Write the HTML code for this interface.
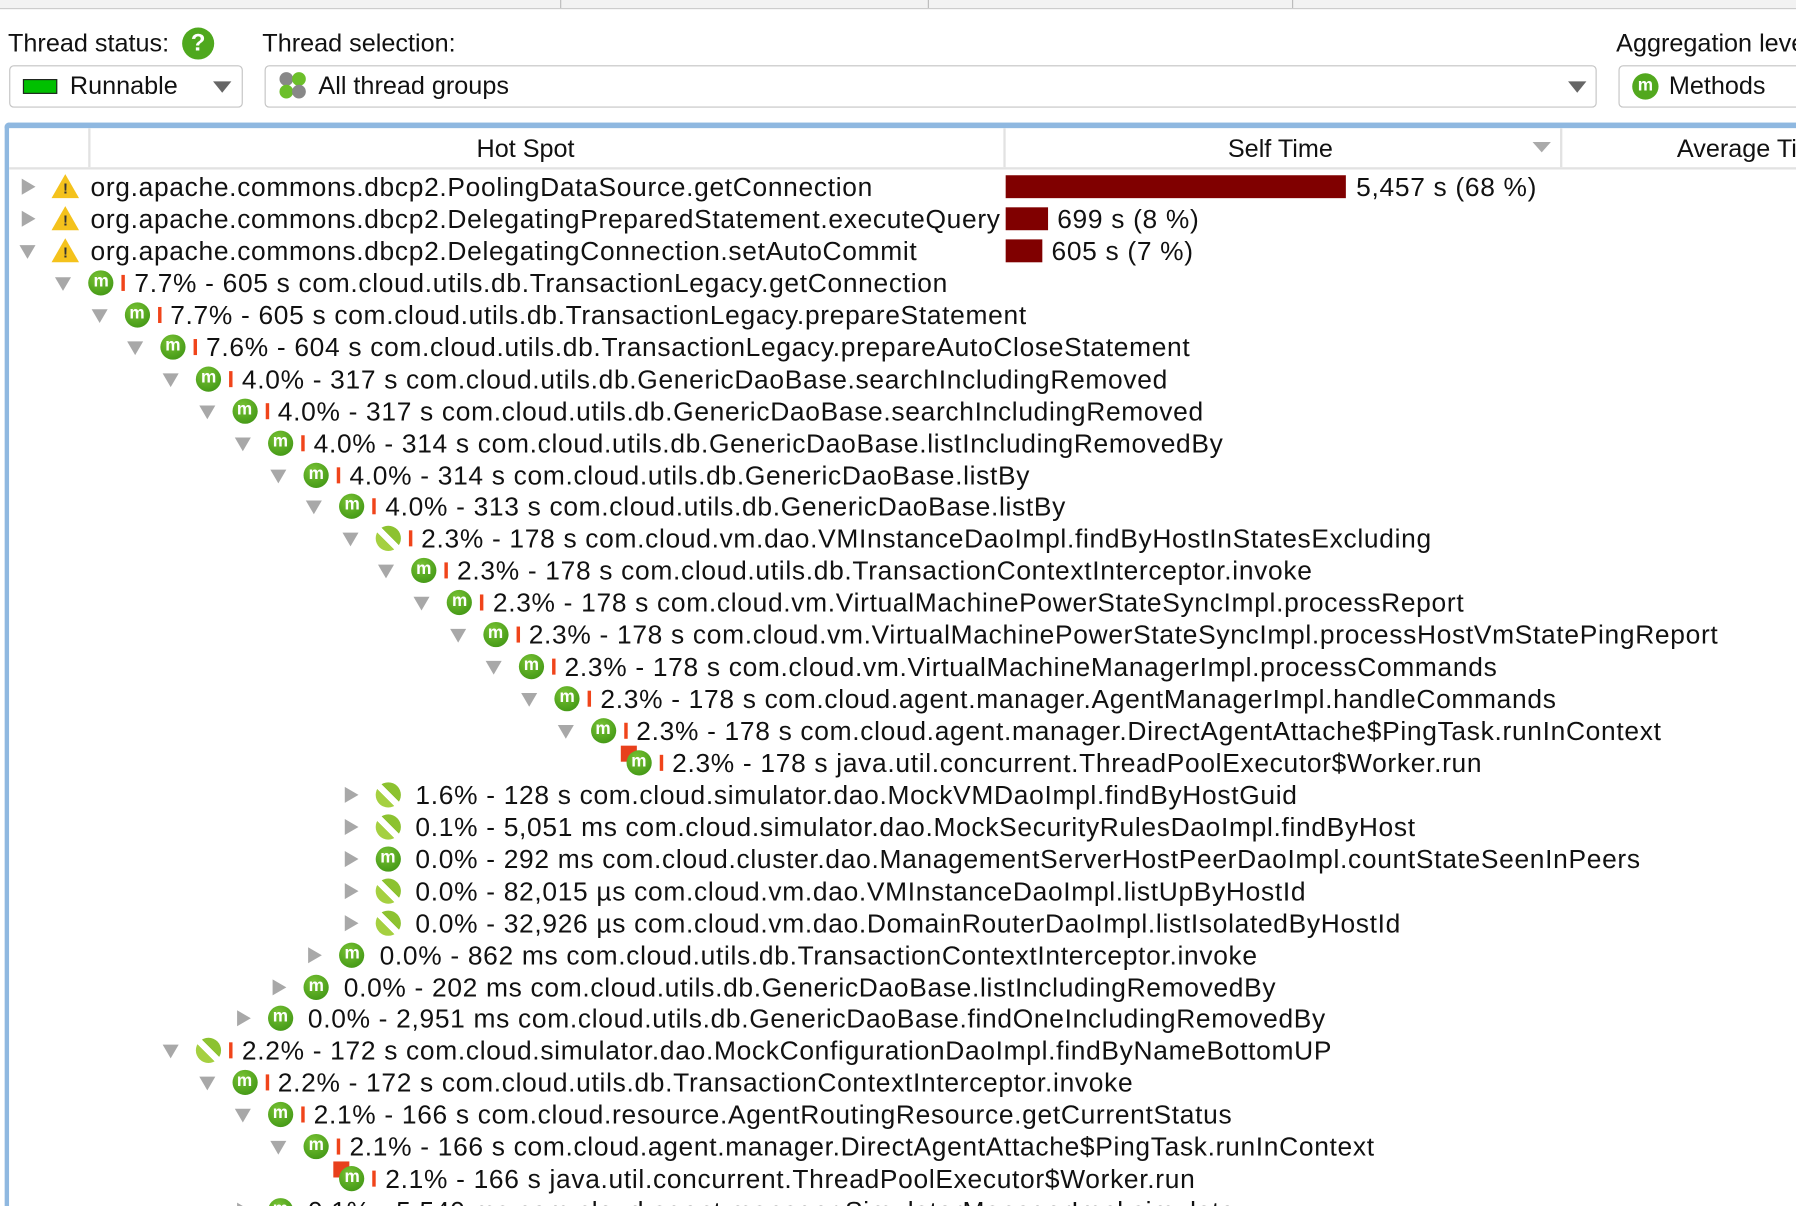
<!DOCTYPE html>
<html><head><meta charset="utf-8"><style>
html,body{margin:0;padding:0;background:#fff;overflow:hidden}
#w{position:absolute;left:0;top:0;width:1568px;height:1053px;transform:scale(1.14541);transform-origin:0 0;font-family:"Liberation Sans",sans-serif;color:#111;overflow:hidden}
.a{position:absolute}
.lbl{position:absolute;font-size:22px;top:25px;white-space:nowrap}
.box{position:absolute;top:57px;height:35px;border:1.5px solid #c4c4c4;border-radius:4px;background:#fff}
.dd{position:absolute;width:0;height:0;border-left:8px solid transparent;border-right:8px solid transparent;border-top:10px solid #666;top:13px}
.r{position:absolute;height:28px;width:1600px;font-size:23px;letter-spacing:0.6px;white-space:nowrap}
.t{position:absolute;left:80px;top:0;line-height:28px}
.td{position:absolute;left:17px;top:9px;width:0;height:0;border-left:7px solid transparent;border-right:7px solid transparent;border-top:12px solid #a8a8a8}
.tr{position:absolute;left:19px;top:7px;width:0;height:0;border-top:7px solid transparent;border-bottom:7px solid transparent;border-left:12px solid #a8a8a8}
.m{position:absolute;left:46px;top:3px;width:22px;height:22px;border-radius:50%;background:radial-gradient(circle at 40% 30%,#78c234,#4a9e1a 70%,#3d8a14);color:#fff;font:bold 15px/20px "Liberation Sans",sans-serif;text-align:center;letter-spacing:0}
.s{position:absolute;left:46px;top:3px;width:22px;height:22px;border-radius:50%;background:linear-gradient(45deg,#a5d040 0,#a5d040 40%,#fff 40%,#fff 58%,#8cc230 58%)}
.b{position:absolute;left:75px;top:7px;width:3px;height:14px;background:#f0441a}
.c{position:absolute;left:41px;top:-1px;width:14px;height:14px;background:#e8401c}
.wn{position:absolute;left:45px;top:3px;width:0;height:0;border-left:12px solid transparent;border-right:12px solid transparent;border-bottom:21px solid #f4c21c}
.wx{position:absolute;left:55px;top:9px;font:bold 13px/14px "Liberation Sans",sans-serif;color:#333;letter-spacing:0}
.bar{position:absolute;height:20px;background:#800000}
.st{position:absolute;font-size:23px;letter-spacing:0.6px;line-height:28px;white-space:nowrap}
</style></head><body><div id="w">
<div class="a" style="left:0;top:0;width:1568px;height:7px;background:#f2f2f2;border-bottom:1px solid #ccc"></div>
<div class="a" style="left:489px;top:0;width:1px;height:7px;background:#bbb"></div>
<div class="a" style="left:810px;top:0;width:1px;height:7px;background:#bbb"></div>
<div class="a" style="left:1128px;top:0;width:1px;height:7px;background:#bbb"></div>

<div class="lbl" style="left:7px">Thread status:</div>
<div class="a" style="left:159px;top:24px;width:28px;height:28px;border-radius:50%;background:#4fa81e;color:#fff;font:bold 21px/28px 'Liberation Sans',sans-serif;text-align:center">?</div>
<div class="lbl" style="left:229px">Thread selection:</div>
<div class="lbl" style="left:1411px">Aggregation level:</div>

<div class="box" style="left:8px;width:202px">
<div class="a" style="left:11px;top:11px;width:28px;height:11px;background:#00c000;border:1.5px solid #222"></div>
<div class="a" style="left:52px;top:4px;font-size:22px">Runnable</div>
<div class="dd" style="left:177px"></div></div>
<div class="box" style="left:231px;width:1161px">
<div class="a" style="left:12px;top:5px;width:12px;height:12px;border-radius:50%;background:#888"></div>
<div class="a" style="left:23px;top:5px;width:12px;height:12px;border-radius:50%;background:#6cbf2a"></div>
<div class="a" style="left:12px;top:16px;width:12px;height:12px;border-radius:50%;background:#6cbf2a"></div>
<div class="a" style="left:23px;top:16px;width:12px;height:12px;border-radius:50%;background:#888"></div>
<div class="a" style="left:46px;top:4px;font-size:22px">All thread groups</div>
<div class="dd" style="left:1137px"></div></div>
<div class="box" style="left:1413px;width:170px">
<div class="a" style="left:11px;top:6px;width:23px;height:23px;border-radius:50%;background:#52a81e;color:#fff;font:bold 15px/22px 'Liberation Sans',sans-serif;text-align:center">m</div>
<div class="a" style="left:43px;top:4px;font-size:22px">Methods</div></div>

<div class="a" style="left:4px;top:107px;width:1570px;height:950px;border-top:5px solid #8fb8e0;border-left:4px solid #8fb8e0;border-top-left-radius:4px"></div>
<div class="a" style="left:8px;top:112px;width:1560px;height:34px;border-bottom:2px solid #e2e2e2"></div>
<div class="a" style="left:77px;top:112px;width:2px;height:34px;background:#e2e2e2"></div>
<div class="a" style="left:876px;top:112px;width:2px;height:34px;background:#e2e2e2"></div>
<div class="a" style="left:1362px;top:112px;width:2px;height:34px;background:#e2e2e2"></div>
<div class="a" style="left:416px;top:117px;font-size:22px">Hot Spot</div>
<div class="a" style="left:1072px;top:117px;font-size:22px">Self Time</div>
<div class="a" style="left:1338px;top:124px;width:0;height:0;border-left:8px solid transparent;border-right:8px solid transparent;border-top:9px solid #aaa"></div>
<div class="a" style="left:1464px;top:117px;font-size:22px;white-space:nowrap">Average Time</div>

<div class="bar" style="left:878px;top:153px;width:297px"></div><div class="st" style="left:1184px;top:149px">5,457 s (68 %)</div>
<div class="bar" style="left:878px;top:181px;width:37px"></div><div class="st" style="left:923px;top:177px">699 s (8 %)</div>
<div class="bar" style="left:878px;top:209px;width:32px"></div><div class="st" style="left:918px;top:205px">605 s (7 %)</div>

<div class="r" style="left:0;top:149px"><div class="tr"></div><div class="wn"></div><div class="wx">!</div><div class="t" style="left:79px">org.apache.commons.dbcp2.PoolingDataSource.getConnection</div></div>
<div class="r" style="left:0;top:177px"><div class="tr"></div><div class="wn"></div><div class="wx">!</div><div class="t" style="left:79px">org.apache.commons.dbcp2.DelegatingPreparedStatement.executeQuery</div></div>
<div class="r" style="left:0;top:205px"><div class="td"></div><div class="wn"></div><div class="wx">!</div><div class="t" style="left:79px">org.apache.commons.dbcp2.DelegatingConnection.setAutoCommit</div></div>

<div class="r" style="left:31.3px;top:233px"><div class="td"></div><div class="m">m</div><div class="b"></div><div class="t" style="left:86px">7.7% - 605 s com.cloud.utils.db.TransactionLegacy.getConnection</div></div>
<div class="r" style="left:62.6px;top:261px"><div class="td"></div><div class="m">m</div><div class="b"></div><div class="t" style="left:86px">7.7% - 605 s com.cloud.utils.db.TransactionLegacy.prepareStatement</div></div>
<div class="r" style="left:93.9px;top:289px"><div class="td"></div><div class="m">m</div><div class="b"></div><div class="t" style="left:86px">7.6% - 604 s com.cloud.utils.db.TransactionLegacy.prepareAutoCloseStatement</div></div>
<div class="r" style="left:125.2px;top:317px"><div class="td"></div><div class="m">m</div><div class="b"></div><div class="t" style="left:86px">4.0% - 317 s com.cloud.utils.db.GenericDaoBase.searchIncludingRemoved</div></div>
<div class="r" style="left:156.5px;top:345px"><div class="td"></div><div class="m">m</div><div class="b"></div><div class="t" style="left:86px">4.0% - 317 s com.cloud.utils.db.GenericDaoBase.searchIncludingRemoved</div></div>
<div class="r" style="left:187.8px;top:373px"><div class="td"></div><div class="m">m</div><div class="b"></div><div class="t" style="left:86px">4.0% - 314 s com.cloud.utils.db.GenericDaoBase.listIncludingRemovedBy</div></div>
<div class="r" style="left:219.1px;top:401px"><div class="td"></div><div class="m">m</div><div class="b"></div><div class="t" style="left:86px">4.0% - 314 s com.cloud.utils.db.GenericDaoBase.listBy</div></div>
<div class="r" style="left:250.4px;top:428px"><div class="td"></div><div class="m">m</div><div class="b"></div><div class="t" style="left:86px">4.0% - 313 s com.cloud.utils.db.GenericDaoBase.listBy</div></div>
<div class="r" style="left:281.7px;top:456px"><div class="td"></div><div class="s"></div><div class="b"></div><div class="t" style="left:86px">2.3% - 178 s com.cloud.vm.dao.VMInstanceDaoImpl.findByHostInStatesExcluding</div></div>
<div class="r" style="left:313px;top:484px"><div class="td"></div><div class="m">m</div><div class="b"></div><div class="t" style="left:86px">2.3% - 178 s com.cloud.utils.db.TransactionContextInterceptor.invoke</div></div>
<div class="r" style="left:344.3px;top:512px"><div class="td"></div><div class="m">m</div><div class="b"></div><div class="t" style="left:86px">2.3% - 178 s com.cloud.vm.VirtualMachinePowerStateSyncImpl.processReport</div></div>
<div class="r" style="left:375.6px;top:540px"><div class="td"></div><div class="m">m</div><div class="b"></div><div class="t" style="left:86px">2.3% - 178 s com.cloud.vm.VirtualMachinePowerStateSyncImpl.processHostVmStatePingReport</div></div>
<div class="r" style="left:406.9px;top:568px"><div class="td"></div><div class="m">m</div><div class="b"></div><div class="t" style="left:86px">2.3% - 178 s com.cloud.vm.VirtualMachineManagerImpl.processCommands</div></div>
<div class="r" style="left:438.2px;top:596px"><div class="td"></div><div class="m">m</div><div class="b"></div><div class="t" style="left:86px">2.3% - 178 s com.cloud.agent.manager.AgentManagerImpl.handleCommands</div></div>
<div class="r" style="left:469.5px;top:624px"><div class="td"></div><div class="m">m</div><div class="b"></div><div class="t" style="left:86px">2.3% - 178 s com.cloud.agent.manager.DirectAgentAttache$PingTask.runInContext</div></div>
<div class="r" style="left:500.8px;top:652px"><div class="c"></div><div class="m">m</div><div class="b"></div><div class="t" style="left:86px">2.3% - 178 s java.util.concurrent.ThreadPoolExecutor$Worker.run</div></div>
<div class="r" style="left:281.7px;top:680px"><div class="tr"></div><div class="s"></div><div class="t" style="left:81px">1.6% - 128 s com.cloud.simulator.dao.MockVMDaoImpl.findByHostGuid</div></div>
<div class="r" style="left:281.7px;top:708px"><div class="tr"></div><div class="s"></div><div class="t" style="left:81px">0.1% - 5,051 ms com.cloud.simulator.dao.MockSecurityRulesDaoImpl.findByHost</div></div>
<div class="r" style="left:281.7px;top:736px"><div class="tr"></div><div class="m">m</div><div class="t" style="left:81px">0.0% - 292 ms com.cloud.cluster.dao.ManagementServerHostPeerDaoImpl.countStateSeenInPeers</div></div>
<div class="r" style="left:281.7px;top:764px"><div class="tr"></div><div class="s"></div><div class="t" style="left:81px">0.0% - 82,015 µs com.cloud.vm.dao.VMInstanceDaoImpl.listUpByHostId</div></div>
<div class="r" style="left:281.7px;top:792px"><div class="tr"></div><div class="s"></div><div class="t" style="left:81px">0.0% - 32,926 µs com.cloud.vm.dao.DomainRouterDaoImpl.listIsolatedByHostId</div></div>
<div class="r" style="left:250.4px;top:820px"><div class="tr"></div><div class="m">m</div><div class="t" style="left:81px">0.0% - 862 ms com.cloud.utils.db.TransactionContextInterceptor.invoke</div></div>
<div class="r" style="left:219.1px;top:848px"><div class="tr"></div><div class="m">m</div><div class="t" style="left:81px">0.0% - 202 ms com.cloud.utils.db.GenericDaoBase.listIncludingRemovedBy</div></div>
<div class="r" style="left:187.8px;top:875px"><div class="tr"></div><div class="m">m</div><div class="t" style="left:81px">0.0% - 2,951 ms com.cloud.utils.db.GenericDaoBase.findOneIncludingRemovedBy</div></div>
<div class="r" style="left:125.2px;top:903px"><div class="td"></div><div class="s"></div><div class="b"></div><div class="t" style="left:86px">2.2% - 172 s com.cloud.simulator.dao.MockConfigurationDaoImpl.findByNameBottomUP</div></div>
<div class="r" style="left:156.5px;top:931px"><div class="td"></div><div class="m">m</div><div class="b"></div><div class="t" style="left:86px">2.2% - 172 s com.cloud.utils.db.TransactionContextInterceptor.invoke</div></div>
<div class="r" style="left:187.8px;top:959px"><div class="td"></div><div class="m">m</div><div class="b"></div><div class="t" style="left:86px">2.1% - 166 s com.cloud.resource.AgentRoutingResource.getCurrentStatus</div></div>
<div class="r" style="left:219.1px;top:987px"><div class="td"></div><div class="m">m</div><div class="b"></div><div class="t" style="left:86px">2.1% - 166 s com.cloud.agent.manager.DirectAgentAttache$PingTask.runInContext</div></div>
<div class="r" style="left:250.4px;top:1015px"><div class="c"></div><div class="m">m</div><div class="b"></div><div class="t" style="left:86px">2.1% - 166 s java.util.concurrent.ThreadPoolExecutor$Worker.run</div></div>
<div class="r" style="left:187.8px;top:1043px"><div class="tr"></div><div class="m">m</div><div class="t" style="left:81px">0.1% - 5,540 ms com.cloud.agent.manager.SimulatorManagerImpl.simulate</div></div>
</div></body></html>
